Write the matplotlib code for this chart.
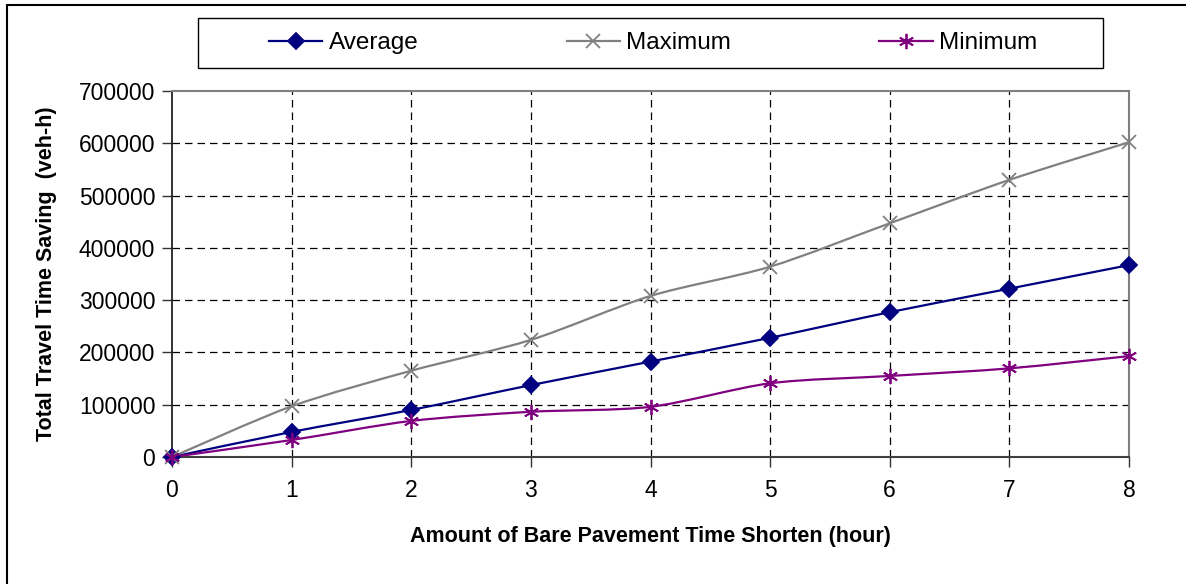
import matplotlib
matplotlib.use("Agg")
import matplotlib.pyplot as plt
import numpy as np
from matplotlib.path import Path
from matplotlib.patches import PathPatch, Rectangle
from matplotlib.lines import Line2D

plt.rcParams['font.family'] = ['Liberation Sans', 'DejaVu Sans']

hours = [0, 1, 2, 3, 4, 5, 6, 7, 8]
average = [0, 48000, 90000, 137500, 182500, 228000, 277000, 322000, 367000]
maximum = [0, 97000, 165000, 224000, 308000, 364000, 447000, 530000, 602000]
minimum = [0, 32500, 69000, 86500, 96000, 141000, 155000, 169500, 193000]

series_names = ["Average", "Maximum", "Minimum"]
colors = ["#000080", "#808080", "#800080"]
markers = ["D", "x", (6, 2, 0)]
msizes = [8, 10, 11]

fig = plt.figure(figsize=(11.86, 5.84), dpi=100)
ax = fig.add_axes([172/1186, 1-457/584, (1129-172)/1186, (457-91)/584])


def smooth_path(xs, ys, k=1/7):
    xs = np.asarray(xs, float)
    ys = np.asarray(ys, float)
    n = len(xs)
    verts = [(xs[0], ys[0])]
    codes = [Path.MOVETO]
    for i in range(n - 1):
        p0 = i - 1 if i > 0 else i
        p3 = i + 2 if i + 2 < n else i + 1
        c1 = (xs[i] + (xs[i+1] - xs[p0]) * k, ys[i] + (ys[i+1] - ys[p0]) * k)
        c2 = (xs[i+1] - (xs[p3] - xs[i]) * k, ys[i+1] - (ys[p3] - ys[i]) * k)
        verts += [c1, c2, (xs[i+1], ys[i+1])]
        codes += [Path.CURVE4] * 3
    return Path(verts, codes)


handles = []
for name, vals, c, m, ms in zip(series_names, [average, maximum, minimum], colors, markers, msizes):
    patch = PathPatch(smooth_path(hours, vals), facecolor='none', edgecolor=c, lw=1.6, zorder=3)
    ax.add_patch(patch)
    ax.plot(hours, vals, linestyle='none', marker=m, markersize=ms, color=c,
            markeredgecolor=c, markeredgewidth=1.3, zorder=4, clip_on=False)
    handles.append(Line2D([], [], color=c, lw=1.6, marker=m, markersize=ms,
                          markeredgewidth=1.3, label=name))

ax.set_xlim(0, 8)
ax.set_ylim(0, 700000)
ax.set_xticks(hours)
yt = list(range(0, 700001, 100000))
ax.set_yticks(yt)
ax.set_yticklabels([str(v) for v in yt])
ax.grid(True, color='black', linestyle=(0, (6, 4)), linewidth=0.9)
ax.set_axisbelow(True)
ax.tick_params(axis='both', labelsize=16.5, length=7, width=1, color='#333333', pad=5)
ax.tick_params(axis='x', pad=9)
for gl in (ax.xaxis.get_gridlines()[0], ax.xaxis.get_gridlines()[-1],
           ax.yaxis.get_gridlines()[0], ax.yaxis.get_gridlines()[-1]):
    gl.set_visible(False)

for side in ['top', 'right']:
    ax.spines[side].set_color('#808080')
    ax.spines[side].set_linewidth(1.5)
ax.spines['left'].set_color('#222222')
ax.spines['bottom'].set_color('#404040')
ax.spines['left'].set_linewidth(1.3)
ax.spines['bottom'].set_linewidth(1.5)

ax.set_xlabel("Amount of Bare Pavement Time Shorten (hour)", fontsize=15.5,
              fontweight='bold', labelpad=17)
ax.set_ylabel("Total Travel Time Saving  (veh-h)", fontsize=15.5,
              fontweight='bold', labelpad=16)

leg = fig.legend(handles=handles, loc='center', ncol=3,
                 bbox_to_anchor=(653/1186, 1-43/584),
                 fontsize=17.5, frameon=False,
                 handlelength=2.2, handletextpad=0.25, columnspacing=6.1,
                 borderaxespad=0, borderpad=0.2)

fig.patches.append(Rectangle((198/1186, 1-68/584), (1103-198)/1186, 50/584,
                             transform=fig.transFigure, fill=False,
                             edgecolor='black', lw=1.0))
fig.patches.append(Rectangle((7/1186, -0.1), 1.2, 1 - 5/584 + 0.1,
                             transform=fig.transFigure, fill=False,
                             edgecolor='black', lw=1.5))

fig.savefig("out.png", dpi=100)
